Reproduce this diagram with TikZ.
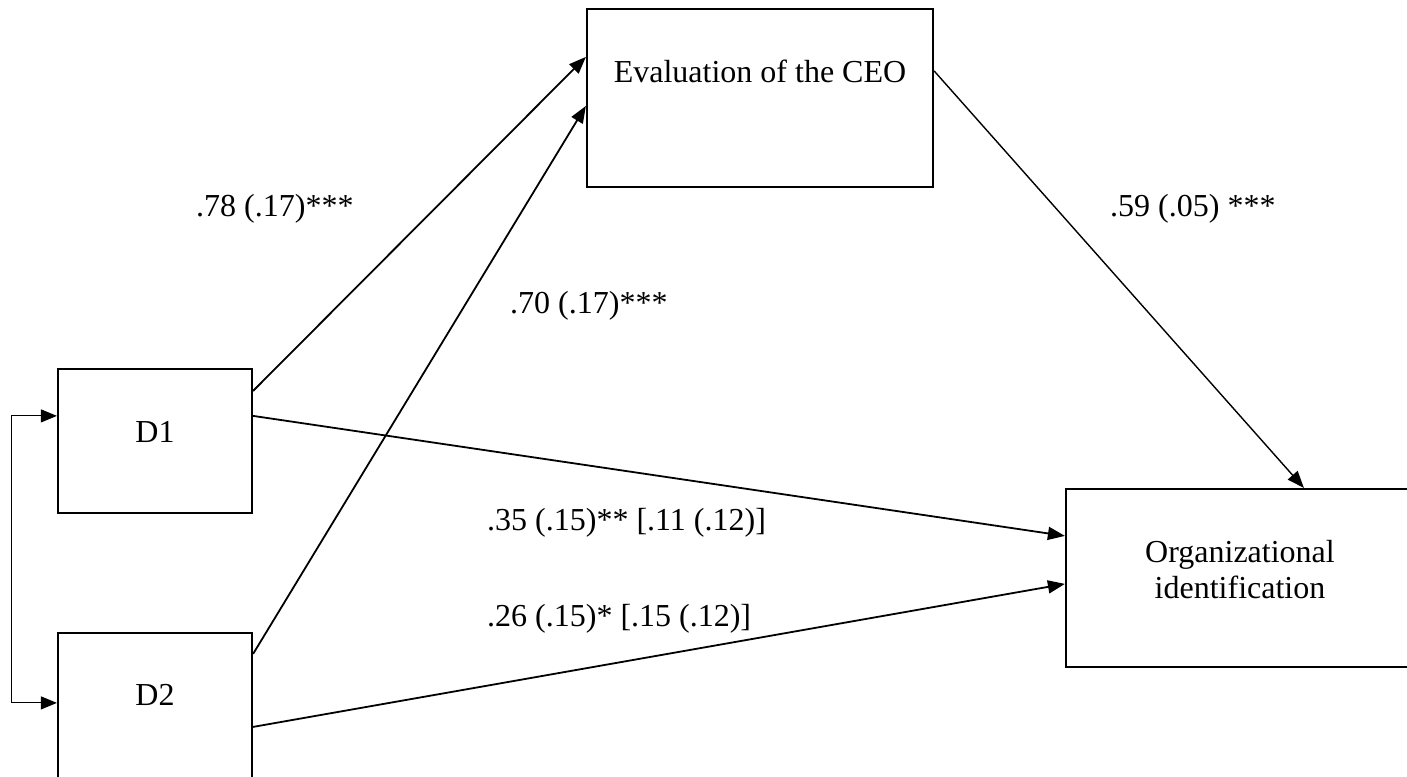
\documentclass[tikz,border=0pt]{standalone}
\usepackage{fontspec}
\setmainfont{Liberation Serif}
\usetikzlibrary{arrows.meta,calc}
\begin{document}
\begin{tikzpicture}[x=1pt,y=-1pt,
  box/.style={draw, line width=2.2pt, rectangle, inner sep=0pt},
  lbl/.style={font=\fontsize{32}{37}\selectfont, inner sep=0pt},
  arr/.style={-{Triangle[length=17pt,width=13pt]}, line width=1.8pt},
  thinarr/.style={-{Triangle[length=17pt,width=13pt]}, line width=1.4pt},
  bidir/.style={{Triangle[length=16pt,width=13pt]}-{Triangle[length=16pt,width=13pt]}, line width=1pt}]
\useasboundingbox (0,0) rectangle (1407,776);
% boxes
\node[box, minimum width=194pt, minimum height=144pt] (d1) at (155,441) {};
\node[box, minimum width=194pt, minimum height=150pt] (d2) at (155,708) {};
\node[box, minimum width=346pt, minimum height=178pt] (eval) at (760,98) {};
\node[box, minimum width=348pt, minimum height=178pt] (oi) at (1240,578) {};
% box texts
\node[lbl, anchor=base] (evalt) at (760,82) {Evaluation of the CEO};
\node[lbl, anchor=base] (d1t) at (155,442) {D1};
\node[lbl, anchor=base] (d2t) at (155,705) {D2};
\node[lbl, anchor=base] (oit1) at (1240,562) {Organizational};
\node[lbl, anchor=base] (oit2) at (1240,598) {identification};
% connector end points
\coordinate (d1a) at ($(d1.north east)+(0,23)$);
\coordinate (d1b) at ($(d1.north east)+(0,48)$);
\coordinate (d2a) at ($(d2.north east)+(0,22)$);
\coordinate (d2b) at ($(d2.north east)+(0,95)$);
\coordinate (ev1) at ($(eval.north west)+(0,49)$);
\coordinate (ev2) at ($(eval.north west)+(0,98)$);
\coordinate (evo) at ($(eval.north east)+(0,63)$);
\coordinate (oit) at ($(oi.north west)+(239,0)$);
\coordinate (oi1) at ($(oi.north west)+(0,48)$);
\coordinate (oi2) at ($(oi.north west)+(0,96)$);
\coordinate (d1w) at ($(d1.north west)+(0,48)$);
\coordinate (d2w) at ($(d2.north west)+(0,71)$);
\coordinate (lft) at (11,0);
% connectors
\draw[arr] (d1a) -- (ev1);
\draw[arr] (d2a) -- (ev2);
\draw[thinarr] (evo) -- (oit);
\draw[arr] (d1b) -- (oi1);
\draw[arr] (d2b) -- (oi2);
\draw[bidir] (d1w) -- (d1w -| lft) -- (d2w -| lft) -- (d2w);
% path labels
\node[lbl, anchor=base west] (l1) at (196,216) {.78 (.17)***};
\node[lbl, anchor=base west] (l2) at (510,313) {.70 (.17)***};
\node[lbl, anchor=base west] (l3) at (1110,216) {.59 (.05) ***};
\node[lbl, anchor=base west] (l4) at (487,530) {.35 (.15)** [.11 (.12)]};
\node[lbl, anchor=base west] (l5) at (487,626) {.26 (.15)* [.15 (.12)]};
\end{tikzpicture}
\end{document}
